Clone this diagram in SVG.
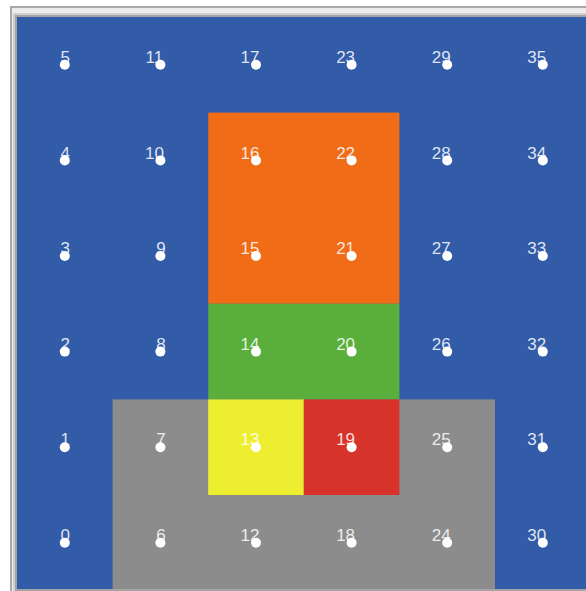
<svg xmlns="http://www.w3.org/2000/svg" width="586" height="591" viewBox="0 0 586 591">
<style>
.b{fill:#325ba8}.o{fill:#f06c17}.g{fill:#5aaf3c}.y{fill:#eeee30}.r{fill:#d8332a}.k{fill:#8c8c8c}
.t{font-family:"Liberation Sans",Arial,sans-serif;font-size:17px;fill:#ffffff;fill-opacity:0.85;text-anchor:middle}
.d{fill:#ffffff}
</style>
<rect x="0" y="0" width="586" height="591" fill="#ffffff"/>
<rect x="10" y="6" width="576" height="585" fill="#a9a9a9"/>
<rect x="12" y="8" width="574" height="583" fill="#ececec"/>
<rect x="13" y="13" width="573" height="578" fill="#d0d0d0"/>
<rect x="15" y="15" width="571" height="576" fill="#a4a4a4"/>
<g id="cells">
<rect class="b" x="17" y="17" width="569" height="572"/>
<rect class="k" x="112.6" y="399.4" width="382.4" height="189.6"/>
<rect class="o" x="208.2" y="112.6" width="191.2" height="191.2"/>
<rect class="g" x="208.2" y="303.8" width="191.2" height="95.6"/>
<rect class="y" x="208.2" y="399.4" width="95.6" height="95.6"/>
<rect class="r" x="303.8" y="399.4" width="95.6" height="95.6"/>
</g>
<rect x="17" y="589" width="569" height="2" fill="#a4a4a4"/>
<g id="connectors"></g>
<g id="n0"><text class="t" x="65.3" y="541">0</text><circle class="d" cx="64.8" cy="542.8" r="5"/></g>
<g id="n1"><text class="t" x="65.3" y="445.4">1</text><circle class="d" cx="64.8" cy="447.2" r="5"/></g>
<g id="n2"><text class="t" x="65.3" y="349.8">2</text><circle class="d" cx="64.8" cy="351.6" r="5"/></g>
<g id="n3"><text class="t" x="65.3" y="254.2">3</text><circle class="d" cx="64.8" cy="256" r="5"/></g>
<g id="n4"><text class="t" x="65.3" y="158.6">4</text><circle class="d" cx="64.8" cy="160.4" r="5"/></g>
<g id="n5"><text class="t" x="65.3" y="63">5</text><circle class="d" cx="64.8" cy="64.8" r="5"/></g>
<g id="n6"><text class="t" x="160.9" y="541">6</text><circle class="d" cx="160.4" cy="542.8" r="5"/></g>
<g id="n7"><text class="t" x="160.9" y="445.4">7</text><circle class="d" cx="160.4" cy="447.2" r="5"/></g>
<g id="n8"><text class="t" x="160.9" y="349.8">8</text><circle class="d" cx="160.4" cy="351.6" r="5"/></g>
<g id="n9"><text class="t" x="160.9" y="254.2">9</text><circle class="d" cx="160.4" cy="256" r="5"/></g>
<g id="n10"><text class="t" x="154.4" y="158.6">10</text><circle class="d" cx="160.4" cy="160.4" r="5"/></g>
<g id="n11"><text class="t" x="154.4" y="63">11</text><circle class="d" cx="160.4" cy="64.8" r="5"/></g>
<g id="n12"><text class="t" x="250" y="541">12</text><circle class="d" cx="256" cy="542.8" r="5"/></g>
<g id="n13"><text class="t" x="250" y="445.4">13</text><circle class="d" cx="256" cy="447.2" r="5"/></g>
<g id="n14"><text class="t" x="250" y="349.8">14</text><circle class="d" cx="256" cy="351.6" r="5"/></g>
<g id="n15"><text class="t" x="250" y="254.2">15</text><circle class="d" cx="256" cy="256" r="5"/></g>
<g id="n16"><text class="t" x="250" y="158.6">16</text><circle class="d" cx="256" cy="160.4" r="5"/></g>
<g id="n17"><text class="t" x="250" y="63">17</text><circle class="d" cx="256" cy="64.8" r="5"/></g>
<g id="n18"><text class="t" x="345.6" y="541">18</text><circle class="d" cx="351.6" cy="542.8" r="5"/></g>
<g id="n19"><text class="t" x="345.6" y="445.4">19</text><circle class="d" cx="351.6" cy="447.2" r="5"/></g>
<g id="n20"><text class="t" x="345.6" y="349.8">20</text><circle class="d" cx="351.6" cy="351.6" r="5"/></g>
<g id="n21"><text class="t" x="345.6" y="254.2">21</text><circle class="d" cx="351.6" cy="256" r="5"/></g>
<g id="n22"><text class="t" x="345.6" y="158.6">22</text><circle class="d" cx="351.6" cy="160.4" r="5"/></g>
<g id="n23"><text class="t" x="345.6" y="63">23</text><circle class="d" cx="351.6" cy="64.8" r="5"/></g>
<g id="n24"><text class="t" x="441.2" y="541">24</text><circle class="d" cx="447.2" cy="542.8" r="5"/></g>
<g id="n25"><text class="t" x="441.2" y="445.4">25</text><circle class="d" cx="447.2" cy="447.2" r="5"/></g>
<g id="n26"><text class="t" x="441.2" y="349.8">26</text><circle class="d" cx="447.2" cy="351.6" r="5"/></g>
<g id="n27"><text class="t" x="441.2" y="254.2">27</text><circle class="d" cx="447.2" cy="256" r="5"/></g>
<g id="n28"><text class="t" x="441.2" y="158.6">28</text><circle class="d" cx="447.2" cy="160.4" r="5"/></g>
<g id="n29"><text class="t" x="441.2" y="63">29</text><circle class="d" cx="447.2" cy="64.8" r="5"/></g>
<g id="n30"><text class="t" x="536.8" y="541">30</text><circle class="d" cx="542.8" cy="542.8" r="5"/></g>
<g id="n31"><text class="t" x="536.8" y="445.4">31</text><circle class="d" cx="542.8" cy="447.2" r="5"/></g>
<g id="n32"><text class="t" x="536.8" y="349.8">32</text><circle class="d" cx="542.8" cy="351.6" r="5"/></g>
<g id="n33"><text class="t" x="536.8" y="254.2">33</text><circle class="d" cx="542.8" cy="256" r="5"/></g>
<g id="n34"><text class="t" x="536.8" y="158.6">34</text><circle class="d" cx="542.8" cy="160.4" r="5"/></g>
<g id="n35"><text class="t" x="536.8" y="63">35</text><circle class="d" cx="542.8" cy="64.8" r="5"/></g>
</svg>
